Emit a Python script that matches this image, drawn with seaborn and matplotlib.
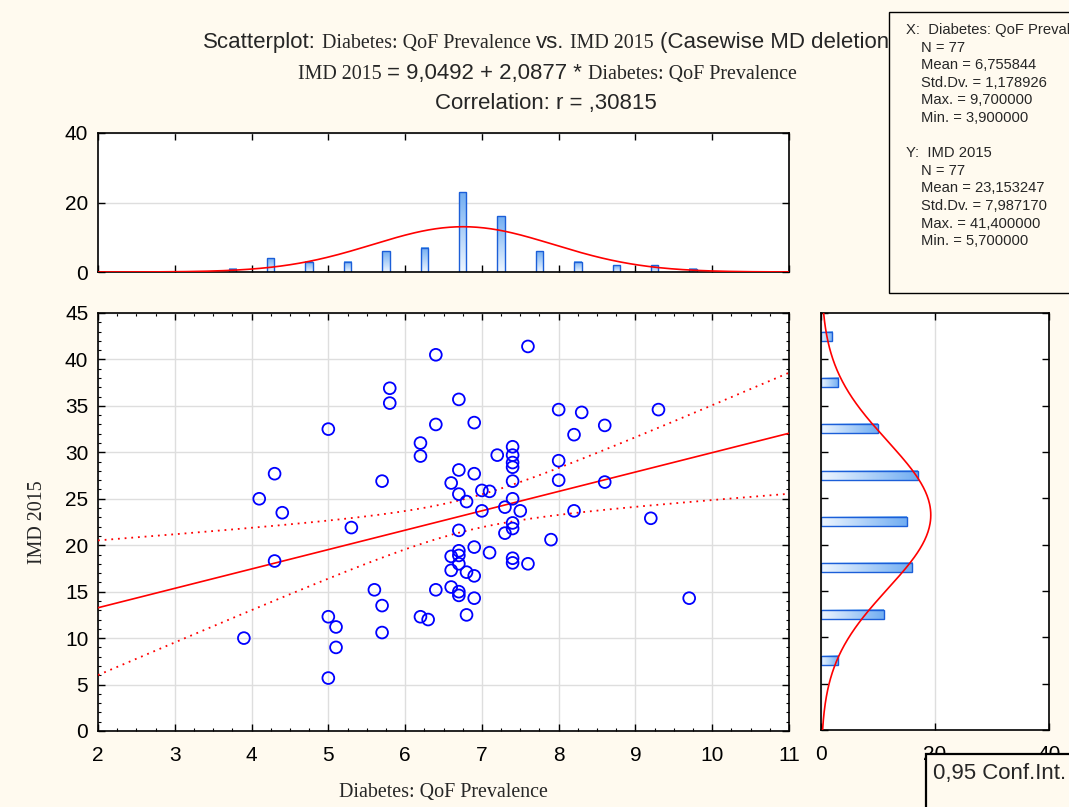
import numpy as np
import matplotlib
matplotlib.use("Agg")
import matplotlib.pyplot as plt
import seaborn as sns
from matplotlib.transforms import IdentityTransform
from matplotlib.patches import Rectangle
from matplotlib.ticker import MultipleLocator
from matplotlib.colors import LinearSegmentedColormap

# ---------------- data ----------------
diabetes = [3.9, 4.1, 4.3, 4.3, 4.4, 5.0, 5.0, 5.0, 5.1, 5.1,
            5.3, 5.6, 5.7, 5.7, 5.7, 5.8, 5.8, 6.2, 6.2, 6.2,
            6.3, 6.4, 6.4, 6.4, 6.6, 6.6, 6.6, 6.6, 6.7, 6.7,
            6.7, 6.7, 6.7, 6.7, 6.7, 6.7, 6.7, 6.8, 6.8, 6.8,
            6.9, 6.9, 6.9, 6.9, 6.9, 7.0, 7.0, 7.1, 7.1, 7.2,
            7.3, 7.3, 7.4, 7.4, 7.4, 7.4, 7.4, 7.4, 7.4, 7.4,
            7.4, 7.4, 7.5, 7.6, 7.6, 7.9, 8.0, 8.0, 8.0, 8.2,
            8.2, 8.3, 8.6, 8.6, 9.2, 9.3, 9.7]
imd = [10.0, 25.0, 27.7, 18.3, 23.5, 32.5, 12.3, 5.7, 11.2, 9.0,
       21.9, 15.2, 26.9, 13.5, 10.6, 36.9, 35.3, 31.0, 29.6, 12.3,
       12.0, 40.5, 33.0, 15.2, 26.7, 18.8, 17.3, 15.5, 35.7, 28.1,
       25.5, 21.6, 19.4, 18.9, 18.0, 15.0, 14.6, 24.7, 17.1, 12.5,
       33.2, 27.7, 19.8, 16.7, 14.3, 25.9, 23.7, 25.8, 19.2, 29.7,
       24.1, 21.3, 30.6, 29.7, 28.9, 28.4, 26.9, 25.0, 22.4, 21.8,
       18.6, 18.1, 23.7, 41.4, 18.0, 20.6, 34.6, 29.1, 27.0, 31.9,
       23.7, 34.3, 32.9, 26.8, 22.9, 34.6, 14.3]

x_name = "Diabetes: QoF Prevalence"
y_name = "IMD 2015"
equation_text = "= 9,0492 + 2,0877 *"
corr_text = "Correlation: r = ,30815"
stats_x = ["N = 77", "Mean = 6,755844", "Std.Dv. = 1,178926",
           "Max. = 9,700000", "Min. = 3,900000"]
stats_y = ["N = 77", "Mean = 23,153247", "Std.Dv. = 7,987170",
           "Max. = 41,400000", "Min. = 5,700000"]
legend_text = "0,95 Conf.Int."
x_ticks = list(range(2, 12))
y_ticks = list(range(0, 50, 5))
top_ticks = [0, 20, 40]
right_ticks = [0, 20, 40]

# ---------------- style ----------------
sns.set_style("ticks")
SANS = "Liberation Sans"
SERIF = "Liberation Serif"
plt.rcParams["font.family"] = [SANS, "DejaVu Sans"]
BG = "#FFFAEF"
BLUE = "#0000FF"
RED = "#FF0000"
BAR_EDGE = "#1B5ED8"
grad_cmap = LinearSegmentedColormap.from_list("g", ["#EEF6FF", "#72AEF2"])

W, H = 1069, 807
fig = plt.figure(figsize=(W / 100, H / 100), dpi=100, facecolor=BG)

def px_axes(l, t, r, b):
    return fig.add_axes([l / W, 1 - b / H, (r - l) / W, (b - t) / H])

ax = px_axes(98, 313, 789, 731)
ax_top = px_axes(98, 133, 789, 272)
ax_r = px_axes(821, 313, 1049, 730)

x = np.array(diabetes)
y = np.array(imd)
n = len(x)

TICK_FS = 15

def style_axes(a):
    a.set_facecolor("white")
    for s in a.spines.values():
        s.set_visible(True)
        s.set_color("black")
        s.set_linewidth(1.2)
    a.tick_params(which="both", direction="in", top=True, right=True,
                  left=True, bottom=True, colors="black",
                  labelsize=TICK_FS)
    a.tick_params(axis="x", which="both", pad=10.5)
    a.tick_params(axis="y", which="both", pad=7)
    a.tick_params(which="major", length=5, width=1.0)
    a.tick_params(which="minor", length=2.5, width=0.8)
    a.set_axisbelow(True)

# ---------------- main scatter ----------------
sns.scatterplot(x=x, y=y, ax=ax, marker="o", s=72, linewidth=1.3,
                edgecolor=BLUE, color=BLUE, zorder=4)
ax.collections[-1].set_facecolor("none")
ax.collections[-1].set_edgecolor(BLUE)
ax.set_xlim(2, 11)
ax.set_ylim(0, 45)
sns.regplot(x=x, y=y, ax=ax, scatter=False, ci=None, truncate=False,
            line_kws=dict(color=RED, lw=1.2, zorder=3))

# 95% confidence band of the fitted mean
b1, b0 = np.polyfit(x, y, 1)
grid_x = np.linspace(2, 11, 200)
fit = b0 + b1 * grid_x
resid = y - (b0 + b1 * x)
s_res = np.sqrt(np.sum(resid ** 2) / (n - 2))
sxx = np.sum((x - x.mean()) ** 2)
t_crit = 1.9921
half = t_crit * s_res * np.sqrt(1 / n + (grid_x - x.mean()) ** 2 / sxx)
for band in (fit + half, fit - half):
    ax.plot(grid_x, band, color=RED, lw=1.3, ls=(0, (1, 2.7)), zorder=3)

style_axes(ax)
ax.set_xticks(x_ticks)
ax.set_yticks(y_ticks)
ax.xaxis.set_minor_locator(MultipleLocator(0.25))
ax.yaxis.set_minor_locator(MultipleLocator(1))
ax.grid(True, which="major", color="#DEDEDE", lw=1.0)
ax.set_xlabel("")
ax.set_ylabel("")
ax.set_xlim(2, 11)
ax.set_ylim(0, 45)

# ---------------- gradient bars helper ----------------
def gradient_bars(a, vertical):
    for p in list(a.patches):
        x0, y0 = p.get_xy()
        w, h = p.get_width(), p.get_height()
        if w == 0 or h == 0:
            continue
        if vertical:
            arr = np.linspace(0, 1, 64).reshape(-1, 1)
        else:
            arr = np.linspace(0, 1, 64).reshape(1, -1)
        a.imshow(arr, cmap=grad_cmap, extent=(x0, x0 + w, y0, y0 + h),
                 origin="lower", aspect="auto", interpolation="bilinear",
                 zorder=2)
        p.set_facecolor("none")
        p.set_edgecolor(BAR_EDGE)
        p.set_linewidth(1.0)
        p.set_zorder(2.5)

eps = 1e-6
# ---------------- top histogram ----------------
edges_x = np.arange(3.5, 10.01, 0.5) + eps
sns.histplot(x=x, bins=edges_x, shrink=0.19, ax=ax_top, stat="count",
             color="#A8D0F8", edgecolor=BAR_EDGE, linewidth=1.0, alpha=1)
gradient_bars(ax_top, vertical=True)
gx = np.linspace(2, 11, 300)
mx, sx = x.mean(), x.std(ddof=1)
ax_top.plot(gx, n * 0.5 * np.exp(-0.5 * ((gx - mx) / sx) ** 2) / (sx * np.sqrt(2 * np.pi)),
            color=RED, lw=1.2, zorder=3)
style_axes(ax_top)
ax_top.set_xlim(2, 11)
ax_top.set_ylim(0, 40)
ax_top.set_xticks(x_ticks)
ax_top.set_yticks(top_ticks)
ax_top.tick_params(labelbottom=False)
ax_top.grid(True, axis="y", color="#DEDEDE", lw=1.0)
ax_top.set_xlabel("")
ax_top.set_ylabel("")

# ---------------- right histogram ----------------
edges_y = np.arange(5, 45.01, 5) + eps
sns.histplot(y=y, bins=edges_y, shrink=0.2, ax=ax_r, stat="count",
             color="#A8D0F8", edgecolor=BAR_EDGE, linewidth=1.0, alpha=1)
gradient_bars(ax_r, vertical=False)
gy = np.linspace(0, 45, 300)
my, sy = y.mean(), y.std(ddof=1)
ax_r.plot(n * 5 * np.exp(-0.5 * ((gy - my) / sy) ** 2) / (sy * np.sqrt(2 * np.pi)), gy,
          color=RED, lw=1.2, zorder=3)
style_axes(ax_r)
ax_r.set_xlim(0, 40)
ax_r.set_ylim(0, 45)
ax_r.set_xticks(right_ticks)
ax_r.set_yticks(y_ticks)
ax_r.tick_params(labelleft=False)
ax_r.grid(True, axis="x", color="#DEDEDE", lw=1.0)
ax_r.set_xlabel("")
ax_r.set_ylabel("")

# ---------------- texts ----------------
renderer = fig.canvas.get_renderer()
ID = IdentityTransform()
FS_SANS = 16.0
FS_SERIF = 14.4

def rich_line(pieces, y_top_base, x0=None, center=None):
    made = []
    widths = []
    for kind, txt in pieces:
        if kind == "gap":
            made.append(None)
            widths.append(0.26 * FS_SANS * 100 / 72)
            continue
        fam = SANS if kind == "sans" else SERIF
        fs = FS_SANS if kind == "sans" else FS_SERIF
        t = fig.text(0, H - y_top_base, txt, family=fam, fontsize=fs,
                     transform=ID, ha="left", va="baseline", zorder=3)
        made.append(t)
        widths.append(t.get_window_extent(renderer).width)
    total = sum(widths)
    xpos = x0 if x0 is not None else center - total / 2
    for t, w in zip(made, widths):
        if t is not None:
            t.set_x(xpos)
        xpos += w

rich_line([("sans", "Scatterplot:"), ("gap", ""), ("serif", x_name), ("gap", ""),
           ("sans", "vs."), ("gap", ""), ("serif", y_name), ("gap", ""),
           ("sans", "(Casewise MD deletion)")], 48, x0=203)
rich_line([("serif", y_name), ("gap", ""), ("sans", equation_text), ("gap", ""),
           ("serif", x_name)], 79, center=547)
rich_line([("sans", corr_text)], 109, center=546)

fig.text(38, H - 522, y_name, family=SERIF, fontsize=FS_SERIF, rotation=90,
         transform=ID, ha="center", va="center")
fig.text(443, H - 793, x_name, family=SERIF, fontsize=FS_SERIF,
         transform=ID, ha="center", va="center")

# stats box
fig.add_artist(Rectangle((889, H - 293), 300, 281, transform=ID,
                         facecolor=BG, edgecolor="black", lw=1.0, zorder=5))
STAT_FS = 10.6
line_h = 17.6
yy = 30
fig.text(906, H - yy, "X:  " + x_name, family=SANS, fontsize=STAT_FS,
         transform=ID, ha="left", va="center", zorder=6)
for s_ in stats_x:
    yy += line_h
    fig.text(921, H - yy, s_, family=SANS, fontsize=STAT_FS,
             transform=ID, ha="left", va="center", zorder=6)
yy += line_h * 2
fig.text(906, H - yy, "Y:  " + y_name, family=SANS, fontsize=STAT_FS,
         transform=ID, ha="left", va="center", zorder=6)
for s_ in stats_y:
    yy += line_h
    fig.text(921, H - yy, s_, family=SANS, fontsize=STAT_FS,
             transform=ID, ha="left", va="center", zorder=6)

# legend box
fig.add_artist(Rectangle((926, -20), 200, H - 754 + 20, transform=ID,
                         facecolor=BG, edgecolor="black", lw=1.6, zorder=5))
fig.text(933, H - 773, legend_text, family=SANS, fontsize=16,
         transform=ID, ha="left", va="center", zorder=6)

fig.savefig("out.png", dpi=100, facecolor=BG)
